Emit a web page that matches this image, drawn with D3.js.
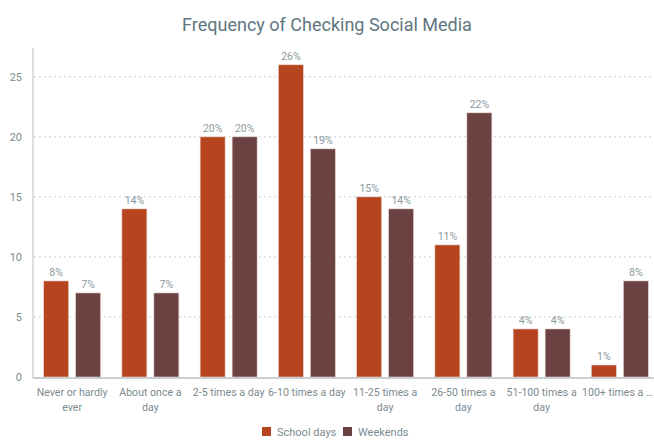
<!DOCTYPE html>
<html>
<head>
<script src="https://d3js.org/d3.v7.min.js"></script>
<style>
  body { margin: 0; background: #fff; }
  text { font-family: Roboto, "Noto Sans", sans-serif; }
</style>
</head>
<body>
<div id="chart"></div>
<script>
var categories = ["Never or hardly ever", "About once a day", "2-5 times a day", "6-10 times a day",
                  "11-25 times a day", "26-50 times a day", "51-100 times a day", "100+ times a day"];
var catLabels = [["Never or hardly", "ever"], ["About once a", "day"], ["2-5 times a day"], ["6-10 times a day"],
                 ["11-25 times a", "day"], ["26-50 times a", "day"], ["51-100 times a", "day"], ["100+ times a …"]];
var schoolDays = [8, 14, 20, 26, 15, 11, 4, 1];
var weekends = [7, 7, 20, 19, 14, 22, 4, 8];
var series = ["School days", "Weekends"];
var colors = ["#b5441f", "#6b4142"];
var yTicks = [0, 5, 10, 15, 20, 25];

var width = 654, height = 441;
var svg = d3.select("#chart").append("svg").attr("width", width).attr("height", height);

var x = d3.scaleBand().domain(categories).range([33, 659]);
var y = d3.scaleLinear().domain([0, 27.4]).range([377, 48]);

svg.append("text").attr("x", 327).attr("y", 31).attr("text-anchor", "middle")
  .attr("font-size", 18).attr("fill", "#5e767e").text("Frequency of Checking Social Media");

// grid
svg.append("g").selectAll("line").data(yTicks.slice(1)).join("line")
  .attr("x1", 34).attr("x2", width).attr("y1", d => y(d)).attr("y2", d => y(d))
  .attr("stroke", "#c8cfd2").attr("stroke-dasharray", "2,3");

svg.append("g").selectAll("text").data(yTicks).join("text")
  .attr("x", 22).attr("y", d => y(d) + 4).attr("text-anchor", "end")
  .attr("font-size", 11).attr("fill", "#7c8b91").text(d => d);

// bars
var bw = 25, off = 3.5;
var data = [];
categories.forEach(function (c, i) {
  data.push({ c: c, v: schoolDays[i], s: 0 });
  data.push({ c: c, v: weekends[i], s: 1 });
});
var bx = d => x(d.c) + x.bandwidth() / 2 + (d.s === 0 ? -off - bw : off);

svg.append("g").selectAll("rect").data(data).join("rect")
  .attr("x", bx).attr("y", d => y(d.v)).attr("width", bw).attr("height", d => y(0) - y(d.v))
  .attr("fill", d => colors[d.s]).attr("stroke", "#e9d6d0").attr("stroke-width", 0.6);

svg.append("g").selectAll("text").data(data).join("text")
  .attr("x", d => bx(d) + bw / 2).attr("y", d => y(d.v) - 5).attr("text-anchor", "middle")
  .attr("font-size", 10.5).attr("fill", "#8a9aa0").text(d => d.v + "%");

// axes lines
svg.append("line").attr("x1", 33).attr("x2", 33).attr("y1", 48).attr("y2", 378)
  .attr("stroke", "#b7bfc3").attr("stroke-width", 1);
svg.append("line").attr("x1", 33).attr("x2", width).attr("y1", 378).attr("y2", 378)
  .attr("stroke", "#b7bfc3").attr("stroke-width", 1.5);

// x labels (kept inside the visible area)
var xl = svg.append("g").selectAll("text").data(categories).join("text")
  .attr("y", 396).attr("text-anchor", "middle")
  .attr("font-size", 10.6).attr("fill", "#7c8b91");
xl.selectAll("tspan").data((d, i) => catLabels[i]).join("tspan")
  .attr("dy", (d, j) => j === 0 ? 0 : 15).text(d => d);
xl.each(function (d) {
  var t = d3.select(this);
  var w = this.getBBox().width;
  var cx = Math.min(x(d) + x.bandwidth() / 2, width - 1 - w / 2);
  t.attr("x", cx);
  t.selectAll("tspan").attr("x", cx);
});

// legend
var lg = svg.append("g").selectAll("g").data(series).join("g")
  .attr("transform", (d, i) => "translate(" + [262, 343][i] + ",427)");
lg.append("rect").attr("width", 9).attr("height", 9).attr("fill", (d, i) => colors[i]);
lg.append("text").attr("x", 15).attr("y", 9).attr("font-size", 11).attr("fill", "#7c8b91").text(d => d);
</script>
</body>
</html>
